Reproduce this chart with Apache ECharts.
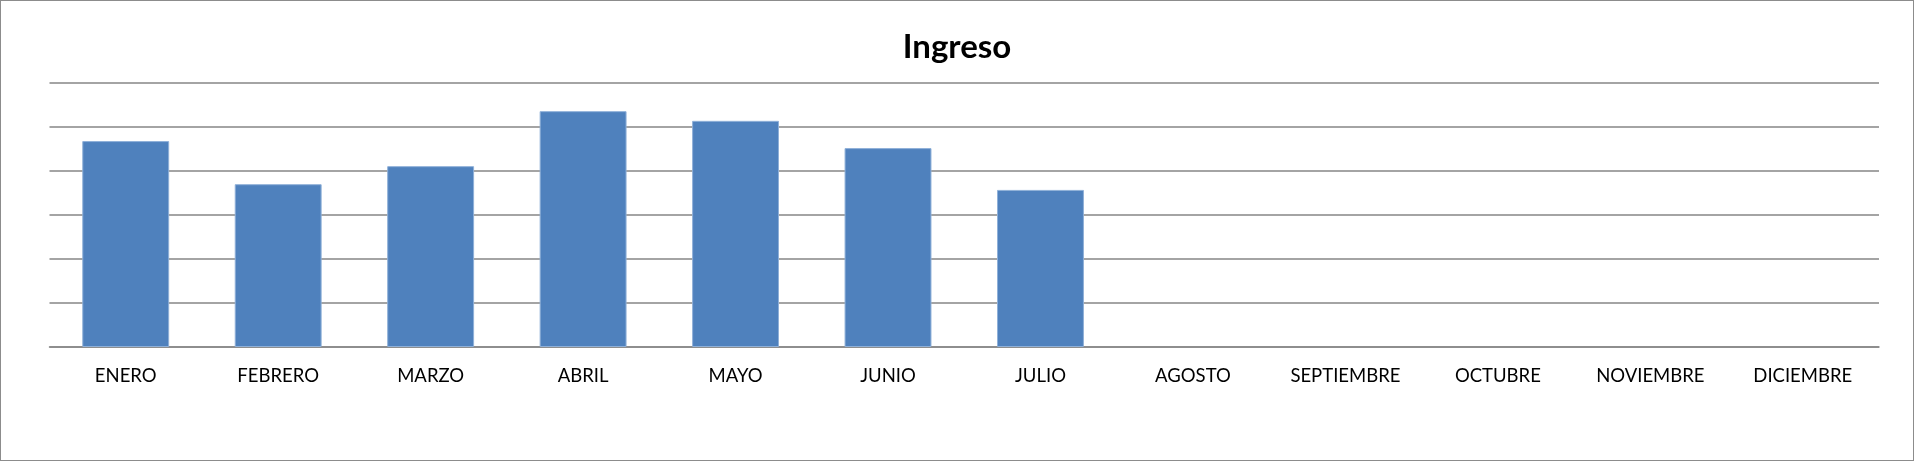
<!DOCTYPE html>
<html>
<head>
<meta charset="utf-8">
<script src="https://cdn.jsdelivr.net/npm/echarts@6/dist/echarts.min.js"></script>
<style>
html,body{margin:0;padding:0;background:#fff;}
#chart{width:1914px;height:461px;box-sizing:border-box;border:1px solid #8c8c8c;}
</style>
</head>
<body>
<div id="chart"></div>
<script>
const title = 'Ingreso';
const categories = ['ENERO','FEBRERO','MARZO','ABRIL','MAYO','JUNIO','JULIO','AGOSTO','SEPTIEMBRE','OCTUBRE','NOVIEMBRE','DICIEMBRE'];
const ingreso = [46.8, 37.0, 41.1, 53.6, 51.4, 45.2, 35.7, null, null, null, null, null];
const yMin = 0, yMax = 60, yStep = 10;

const chart = echarts.init(document.getElementById('chart'), null, {renderer: 'canvas'});
chart.setOption({
  animation: false,
  backgroundColor: '#ffffff',
  title: {
    text: title,
    left: 'center',
    top: 25,
    textStyle: {fontFamily: 'Lato', fontWeight: 'bold', fontSize: 33, color: '#000'}
  },
  grid: {left: 48.5, right: 34, top: 82, bottom: 113, containLabel: false},
  xAxis: {
    type: 'category',
    data: categories,
    axisLine: {show: true, lineStyle: {color: '#868686', width: 1.5}},
    axisTick: {show: false},
    axisLabel: {fontFamily: 'Lato', fontSize: 18.5, color: '#000', margin: 20, interval: 0}
  },
  yAxis: {
    type: 'value',
    min: yMin, max: yMax, interval: yStep,
    axisLine: {show: false},
    axisTick: {show: false},
    axisLabel: {show: false},
    splitLine: {show: true, lineStyle: {color: '#868686', width: 1.5}}
  },
  series: [{
    type: 'bar',
    data: ingreso,
    barWidth: '57%',
    itemStyle: {color: '#4F81BD', borderColor: '#8fb0d8', borderWidth: 1}
  }]
});
</script>
</body>
</html>
